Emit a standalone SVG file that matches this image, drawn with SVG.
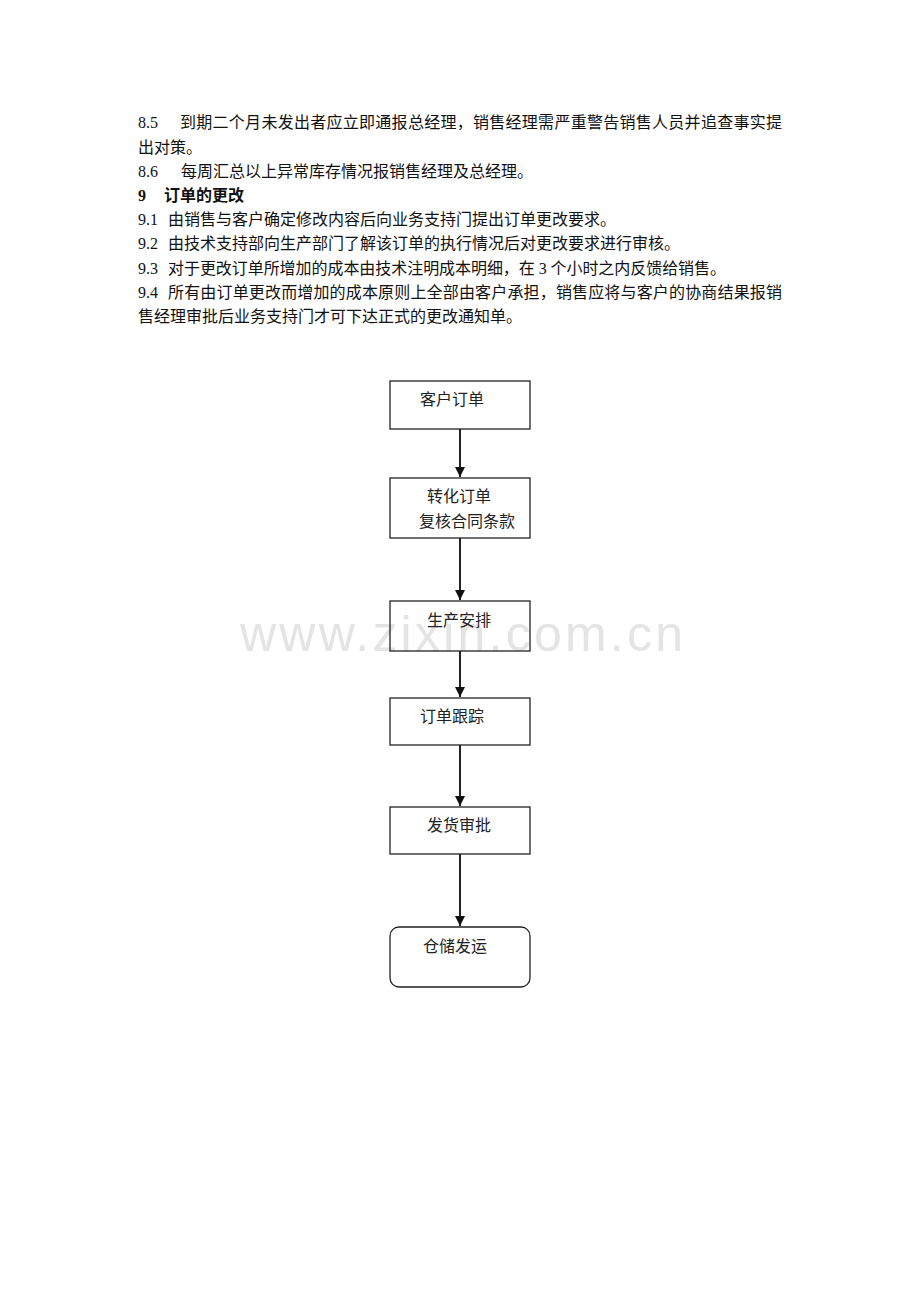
<svg xmlns="http://www.w3.org/2000/svg" width="920" height="1302" viewBox="0 0 920 1302">
<style>
.t{font-family:"Liberation Serif","Noto Sans CJK SC",serif;font-size:16px;fill:#111}
.b{font-weight:bold}
.box{fill:none;stroke:#222;stroke-width:1.3}
.lbl{font-family:"Liberation Serif","Noto Sans CJK SC",serif;font-size:16px;fill:#222}
.wm{font-family:"Liberation Sans",Arial,sans-serif;font-size:50px;fill:#e4e4e4}
.conn{stroke:#222;stroke-width:2;fill:none}
</style>
<defs>
<marker id="ah" viewBox="0 0 10 10" refX="10" refY="5" markerWidth="5" markerHeight="5" orient="auto" markerUnits="strokeWidth">
<path d="M0,0 L10,5 L0,10 z" fill="#111"/>
</marker>
</defs>
<rect width="920" height="1302" fill="#fff"/>
<text class="wm" x="240" y="651" textLength="443" lengthAdjust="spacing">www.zixin.com.cn</text>
<g id="body-text">
<text class="t" y="128"><tspan x="138">8.5</tspan><tspan x="180" textLength="602" lengthAdjust="spacing">到期二个月未发出者应立即通报总经理，销售经理需严重警告销售人员并追查事实提</tspan></text>
<text class="t" x="138" y="153">出对策。</text>
<text class="t" y="177"><tspan x="138">8.6</tspan><tspan x="181">每周汇总以上异常库存情况报销售经理及总经理。</tspan></text>
<text class="t b" y="201"><tspan x="138">9</tspan><tspan x="164">订单的更改</tspan></text>
<text class="t" y="225"><tspan x="138">9.1</tspan><tspan x="168">由销售与客户确定修改内容后向业务支持门提出订单更改要求。</tspan></text>
<text class="t" y="249"><tspan x="138">9.2</tspan><tspan x="168">由技术支持部向生产部门了解该订单的执行情况后对更改要求进行审核。</tspan></text>
<text class="t" y="274"><tspan x="138">9.3</tspan><tspan x="168" textLength="558" lengthAdjust="spacing">对于更改订单所增加的成本由技术注明成本明细，在 3 个小时之内反馈给销售。</tspan></text>
<text class="t" y="298"><tspan x="138">9.4</tspan><tspan x="168" textLength="614" lengthAdjust="spacing">所有由订单更改而增加的成本原则上全部由客户承担，销售应将与客户的协商结果报销</tspan></text>
<text class="t" x="138" y="322">售经理审批后业务支持门才可下达正式的更改通知单。</text>
</g>
<g id="connectors">
<line class="conn" x1="460" y1="429" x2="460" y2="477" marker-end="url(#ah)"/>
<line class="conn" x1="460" y1="538" x2="460" y2="600" marker-end="url(#ah)"/>
<line class="conn" x1="460" y1="651" x2="460" y2="697" marker-end="url(#ah)"/>
<line class="conn" x1="460" y1="745" x2="460" y2="806" marker-end="url(#ah)"/>
<line class="conn" x1="460" y1="854" x2="460" y2="926" marker-end="url(#ah)"/>
</g>
<g id="n1"><rect class="box" x="390" y="381" width="140" height="48"/><text class="lbl" x="420" y="405">客户订单</text></g>
<g id="n2"><rect class="box" x="390" y="478" width="140" height="60"/><text class="lbl" x="427" y="502">转化订单</text><text class="lbl" x="419" y="527">复核合同条款</text></g>
<g id="n3"><rect class="box" x="390" y="601" width="140" height="50"/><text class="lbl" x="427" y="626">生产安排</text></g>
<g id="n4"><rect class="box" x="390" y="698" width="140" height="47"/><text class="lbl" x="420" y="722">订单跟踪</text></g>
<g id="n5"><rect class="box" x="390" y="807" width="140" height="47"/><text class="lbl" x="427" y="831">发货审批</text></g>
<g id="n6"><rect class="box" x="390" y="927" width="140" height="60" rx="9" ry="9"/><text class="lbl" x="423" y="952">仓储发运</text></g>
</svg>
